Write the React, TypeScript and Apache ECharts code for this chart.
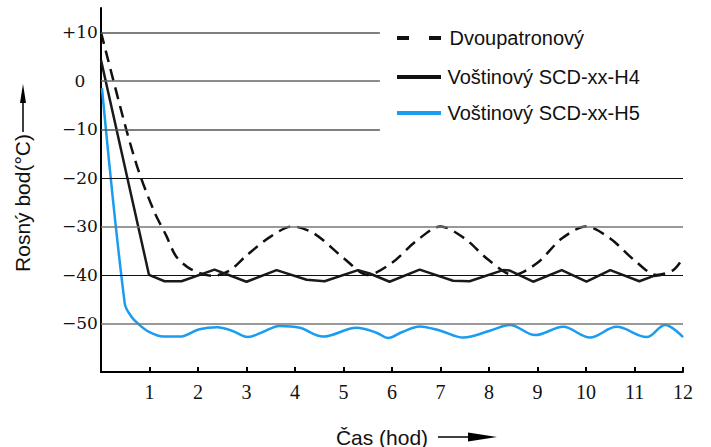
import React, { useEffect, useRef } from "react";
import * as echarts from "echarts";

// Time (hours) and dew point (°C) for each series
const dashT = [0, 0.52, 0.79, 1.1, 1.35, 1.55, 1.85, 2.3, 2.65, 3.0, 3.48, 3.95, 4.4, 5.0, 5.5, 6.0, 6.5, 7.0, 7.5, 8.0, 8.5, 9.0, 9.5, 10.0, 10.5, 11.0, 11.45, 11.8, 12];
const dashV = [10, -10, -19, -27, -32, -36.2, -38.8, -40.2, -39.1, -36, -32.2, -30, -31.5, -36.5, -40, -37.5, -33, -30, -32.5, -37, -40, -37.5, -32.5, -30, -32.5, -37, -40, -39, -36.5];

const h4T = [0, 0.99, 1.31, 1.66, 2.34, 3.0, 3.62, 4.24, 4.61, 5.3, 5.54, 5.95, 6.57, 7.26, 7.6, 8.29, 8.43, 8.91, 9.5, 10.01, 10.5, 11.1, 11.4, 11.55];
const h4V = [4.3, -40, -41.3, -41.3, -38.9, -41.4, -39, -41, -41.3, -39, -39.7, -41.4, -38.9, -41.2, -41.3, -39, -39.1, -41.4, -39, -41.4, -39, -41.3, -40.2, -40];

const h5T = [0.02, 0.49, 0.62, 0.79, 1.0, 1.28, 1.62, 2.03, 2.4, 2.7, 3.03, 3.35, 3.68, 4.1, 4.58, 5.27, 5.68, 5.92, 6.2, 6.57, 7.0, 7.47, 8.02, 8.43, 8.95, 9.53, 10.08, 10.63, 11.25, 11.63, 12];
const h5V = [-1.5, -45.9, -48.5, -50.3, -51.8, -52.7, -52.7, -51.2, -50.8, -51.5, -52.8, -51.7, -50.5, -50.9, -52.7, -50.9, -51.9, -53.0, -51.8, -50.6, -51.5, -52.9, -51.5, -50.3, -52.4, -50.7, -52.9, -50.7, -52.8, -50.3, -52.8];

const seriesNames = ["Dvoupatronový", "Voštinový SCD-xx-H4", "Voštinový SCD-xx-H5"];

// Horizontal reference lines: value, end of line (hours), colour
const gridValues = [10, 0, -10, -20, -30, -40, -50];
const gridEnds = [5.75, 5.75, 5.75, 12, 12, 12, 12];
const gridColors = ["#555", "#666", "#555", "#111", "#777", "#111", "#777"];

const zip = (t: number[], v: number[]) => t.map((x, i) => [x, v[i]]);

const DASH_ICON = "path://M0,0H12V4H0Z M32,0H44V4H32Z";
const SOLID_ICON = "path://M0,0H44V4H0Z";

export default function App() {
  const ref = useRef<HTMLDivElement>(null);
  useEffect(() => {
    if (!ref.current) return;
    const chart = echarts.init(ref.current, undefined, { renderer: "svg" });
    const legendBase = {
      orient: "horizontal",
      left: 392,
      itemWidth: 45,
      itemHeight: 4,
      selectedMode: false,
      textStyle: { fontFamily: "Liberation Sans", fontSize: 20, color: "#111", padding: [0, 0, 0, 1] },
    };
    chart.setOption({
      animation: false,
      grid: { left: 101, right: 28, top: 8, bottom: 75 },
      legend: [
        { ...legendBase, top: 23, data: [{ name: seriesNames[0], icon: DASH_ICON }], textStyle: { ...legendBase.textStyle, padding: [0, 0, 0, 3] } },
        { ...legendBase, top: 62, data: [{ name: seriesNames[1], icon: SOLID_ICON }] },
        { ...legendBase, top: 98, data: [{ name: seriesNames[2], icon: SOLID_ICON }] },
      ],
      xAxis: {
        type: "value",
        min: 0,
        max: 12,
        interval: 1,
        axisLine: { show: true, onZero: false, lineStyle: { color: "#000", width: 2 } },
        axisTick: { show: true, inside: true, length: 5, lineStyle: { color: "#000", width: 2 } },
        axisLabel: { showMinLabel: false, margin: 10, fontFamily: "Liberation Serif", fontSize: 20, color: "#111" },
        splitLine: { show: false },
      },
      yAxis: {
        type: "value",
        min: -60,
        max: 15,
        interval: 10,
        axisLine: { show: true, onZero: false, lineStyle: { color: "#000", width: 2 } },
        axisTick: { show: false },
        axisLabel: {
          margin: 21,
          align: "center",
          fontFamily: "DejaVu Serif",
          fontSize: 17,
          color: "#111",
          formatter: (v: number) => {
            if (v > 10 || v < -50) return "";
            if (v > 0) return "+" + v;
            if (v < 0) return "\u2212" + Math.abs(v);
            return "0";
          },
        },
        splitLine: { show: false },
      },
      graphic: [
        { type: "text", x: 382, y: 437, style: { text: "Čas (hod)", fontFamily: "Liberation Sans", fontSize: 21, fill: "#111", align: "center", verticalAlign: "middle" } },
        { type: "line", shape: { x1: 438, y1: 437, x2: 470, y2: 437 }, style: { stroke: "#000", lineWidth: 1.5 } },
        { type: "polygon", shape: { points: [[468, 432.5], [497, 437], [468, 441.5]] }, style: { fill: "#000" } },
        { type: "text", x: 22, y: 203, rotation: Math.PI / 2, style: { text: "Rosný bod(°C)", fontFamily: "Liberation Sans", fontSize: 21, fill: "#111", align: "center", verticalAlign: "middle" } },
        { type: "line", shape: { x1: 23, y1: 132, x2: 23, y2: 100 }, style: { stroke: "#000", lineWidth: 1.5 } },
        { type: "polygon", shape: { points: [[20, 103], [23, 84], [26, 103]] }, style: { fill: "#000" } },
      ],
      series: [
        {
          name: "grid",
          type: "line",
          data: [],
          z: 1,
          silent: true,
          markLine: {
            silent: true,
            symbol: "none",
            label: { show: false },
            data: gridValues.map((v, i) => [
              { coord: [0, v], lineStyle: { color: gridColors[i], width: gridColors[i] === "#111" ? 1.2 : 1.6, type: "solid" } },
              { coord: [gridEnds[i], v] },
            ]),
          },
        },
        {
          name: seriesNames[0],
          type: "line",
          data: zip(dashT, dashV),
          showSymbol: false,
          symbol: "none",
          smooth: 0.3,
          z: 3,
          color: "#111",
          lineStyle: { color: "#111", width: 2.5, type: [12, 7] },
        },
        {
          name: seriesNames[1],
          type: "line",
          data: zip(h4T, h4V),
          showSymbol: false,
          symbol: "none",
          z: 3,
          color: "#111",
          lineStyle: { color: "#1a1a1a", width: 2.5 },
        },
        {
          name: seriesNames[2],
          type: "line",
          data: zip(h5T, h5V),
          showSymbol: false,
          symbol: "none",
          smooth: 0.35,
          z: 3,
          color: "#1a9cf0",
          lineStyle: { color: "#1a9cf0", width: 2.5 },
        },
      ],
    });
    return () => chart.dispose();
  }, []);
  return <div ref={ref} style={{ position: "absolute", left: 0, top: 0, width: 711, height: 447 }} />;
}
